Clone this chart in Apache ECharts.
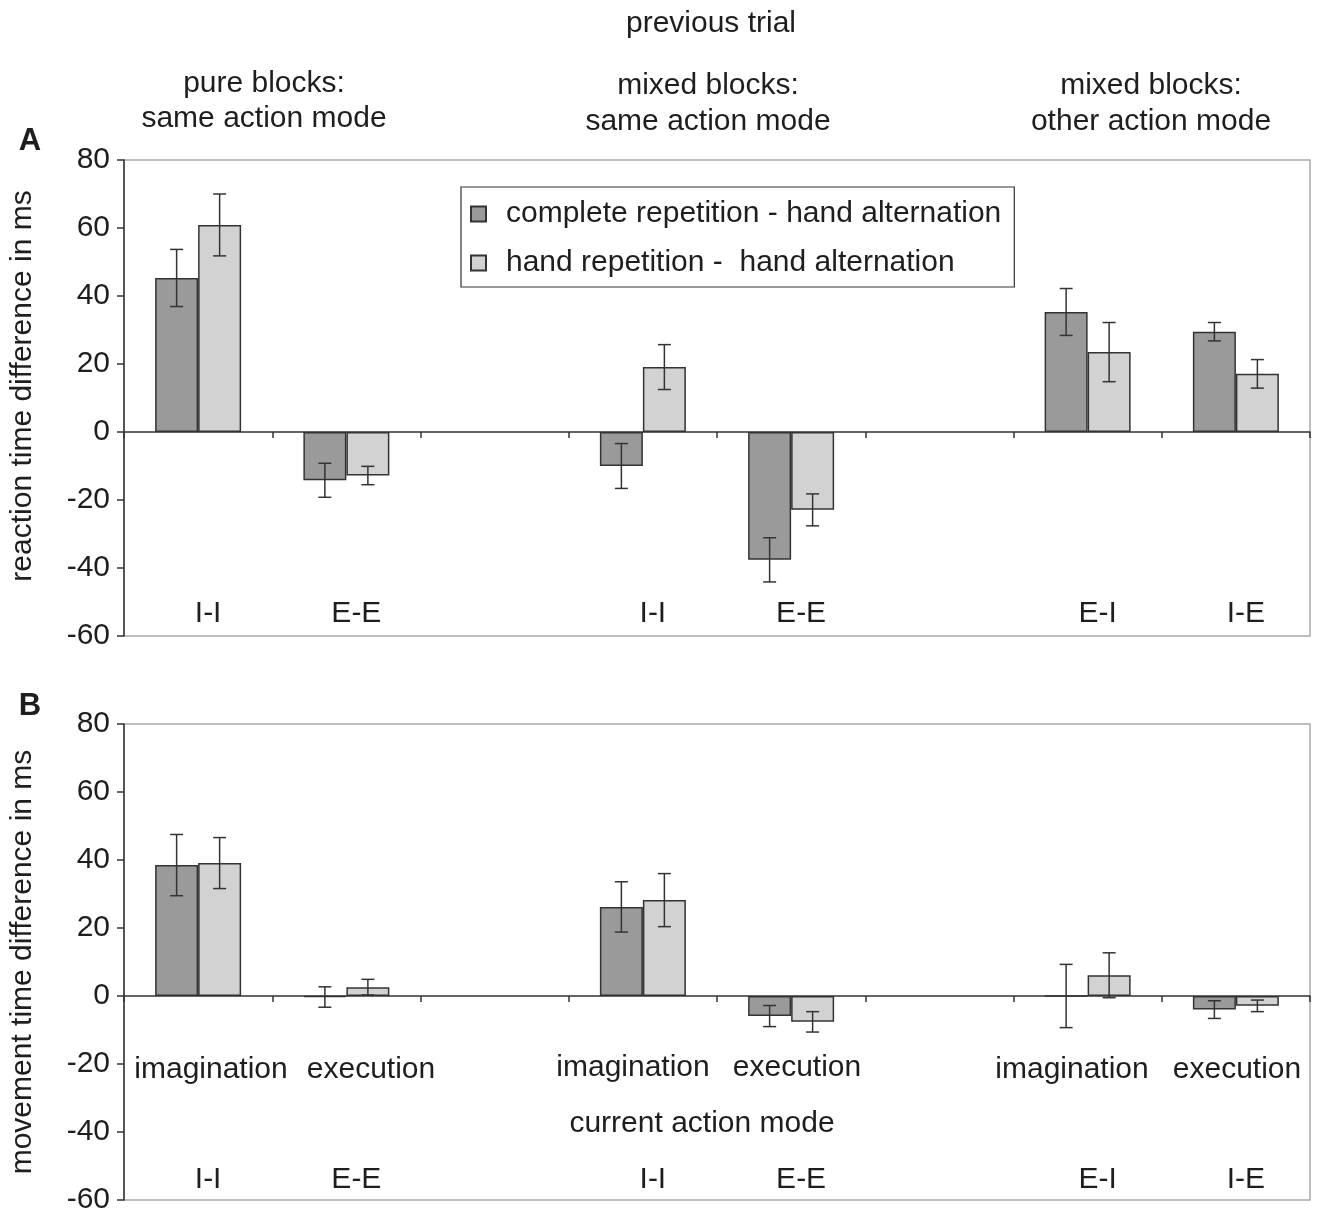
<!DOCTYPE html>
<html>
<head>
<meta charset="utf-8">
<script src="https://cdn.jsdelivr.net/npm/echarts@6/dist/echarts.min.js"></script>
<style>html,body{margin:0;padding:0;background:#fff}#c{width:1318px;height:1217px}</style>
</head>
<body>
<div id="c"></div>
<script>
// ---------- data ----------
const categories = ['pure I-I', 'pure E-E', 'gap1', 'mixed I-I', 'mixed E-E', 'gap2', 'other E-I', 'other I-E'];
const transitionLabels = ['I-I', 'E-E', '', 'I-I', 'E-E', '', 'E-I', 'I-E'];
const modeLabels = ['imagination', 'execution', '', 'imagination', 'execution', '', 'imagination', 'execution'];
const seriesNames = ['complete repetition - hand alternation', 'hand repetition -  hand alternation'];
const yTicks = [-60, -40, -20, 0, 20, 40, 60, 80];

// Panel A: reaction time difference (ms)
const rtComplete    = [45.3, -14.2, null, -10.0, -37.6, null, 35.3, 29.5];
const rtCompleteErr = [8.4, 5.0, null, 6.6, 6.5, null, 6.9, 2.7];
const rtHand        = [60.9, -12.8, null, 19.1, -22.9, null, 23.5, 17.1];
const rtHandErr     = [9.1, 2.7, null, 6.6, 4.7, null, 8.7, 4.2];

// Panel B: movement time difference (ms)
const mtComplete    = [38.5, -0.3, null, 26.2, -5.9, null, 0.0, -4.0];
const mtCompleteErr = [9.0, 3.0, null, 7.4, 3.1, null, 9.3, 2.6];
const mtHand        = [39.1, 2.6, null, 28.2, -7.6, null, 6.1, -2.9];
const mtHandErr     = [7.5, 2.3, null, 7.8, 3.0, null, 6.6, 1.7];

// ---------- styles ----------
const FONT = 'Liberation Sans, Arial, Helvetica, sans-serif';
const FS = 30;
const TXT = '#1e1e1e';
const DARK = '#9a9a9a';
const LIGHT = '#d2d2d2';
const EDGE = '#333333';
const BAR_W = 43;

const chart = echarts.init(document.getElementById('c'), null, {renderer: 'canvas'});

function errItems(vals, errs) {
  return vals.map((v, i) => (v === null ? null : [i, v, errs[i]])).filter(d => d);
}

function errSeries(name, xi, yi, vals, errs, shift) {
  return {
    type: 'custom', name: name, xAxisIndex: xi, yAxisIndex: yi, z: 5,
    silent: true,
    data: errItems(vals, errs),
    encode: {x: 0, y: 1},
    renderItem: function (params, api) {
      const x = api.value(0), y = api.value(1), e = api.value(2);
      const top = api.coord([x, y + e]);
      const bot = api.coord([x, y - e]);
      const cx = top[0] + shift;
      const cap = 6.5;
      const st = {stroke: EDGE, lineWidth: 1.5};
      return {
        type: 'group',
        children: [
          {type: 'line', shape: {x1: cx, y1: top[1], x2: cx, y2: bot[1]}, style: st},
          {type: 'line', shape: {x1: cx - cap, y1: top[1], x2: cx + cap, y2: top[1]}, style: st},
          {type: 'line', shape: {x1: cx - cap, y1: bot[1], x2: cx + cap, y2: bot[1]}, style: st}
        ]
      };
    }
  };
}

function barSeries(name, color, xi, yi, vals) {
  return {
    type: 'bar', name: name, xAxisIndex: xi, yAxisIndex: yi,
    data: vals, barWidth: BAR_W, barGap: '0%',
    itemStyle: {color: color, borderColor: EDGE, borderWidth: 1.5},
    silent: true, z: 3
  };
}

function mainX(gridIndex) {
  return {
    type: 'category', gridIndex: gridIndex, data: categories,
    axisLine: {onZero: true, lineStyle: {color: EDGE, width: 1.5}},
    axisTick: {show: true, length: 6, interval: 0, lineStyle: {color: EDGE, width: 1.5}},
    axisLabel: {show: false},
    splitLine: {show: false}
  };
}

function labelX(gridIndex, margin) {
  return {
    type: 'category', gridIndex: gridIndex, data: categories, position: 'bottom',
    axisLine: {show: false, onZero: false}, axisTick: {show: false},
    axisLabel: {
      show: true, inside: true, interval: 0, margin: margin,
      formatter: (v, i) => transitionLabels[i],
      fontFamily: FONT, fontSize: FS, color: TXT, padding: [0, 0, 0, 20]
    }
  };
}

function valY(gridIndex, name, namePad) {
  return {
    type: 'value', gridIndex: gridIndex,
    min: yTicks[0], max: yTicks[yTicks.length - 1], interval: 20,
    name: name, nameLocation: 'middle', nameGap: 86,
    nameTextStyle: {fontFamily: FONT, fontSize: FS, color: TXT, padding: namePad},
    axisLine: {show: true, lineStyle: {color: EDGE, width: 1.5}},
    axisTick: {show: true, length: 7, lineStyle: {color: EDGE, width: 1.5}},
    axisLabel: {fontFamily: FONT, fontSize: FS, color: TXT, margin: 14},
    splitLine: {show: false}
  };
}

function txt(x, y, text, opts) {
  return {
    type: 'text', x: x, y: y,
    style: Object.assign({text: text, fontFamily: FONT, fontSize: FS, fill: TXT, align: 'center', verticalAlign: 'middle'}, opts || {})
  };
}

const modeLabelPos = [[211, 1070], [371, 1070], null, [633, 1068], [797, 1068], null, [1072, 1070], [1237, 1070]];
const graphics = [
  txt(711, 24, 'previous trial'),
  txt(264, 84, 'pure blocks:'),
  txt(264, 119, 'same action mode'),
  txt(708, 86, 'mixed blocks:'),
  txt(708, 122, 'same action mode'),
  txt(1151, 86, 'mixed blocks:'),
  txt(1151, 122, 'other action mode'),
  txt(30, 141, 'A', {fontWeight: 'bold', fontSize: 31}),
  txt(30, 706, 'B', {fontWeight: 'bold', fontSize: 31}),
  txt(702, 1124, 'current action mode')
];
modeLabels.forEach((m, i) => {
  if (m && modeLabelPos[i]) graphics.push(txt(modeLabelPos[i][0], modeLabelPos[i][1], m));
});

const option = {
  animation: false,
  backgroundColor: '#ffffff',
  textStyle: {fontFamily: FONT},
  grid: [
    {left: 123, right: 8, top: 160, height: 476, show: true, borderColor: '#aaaaaa', borderWidth: 1.5, backgroundColor: 'transparent'},
    {left: 123, right: 8, top: 724, height: 476, show: true, borderColor: '#aaaaaa', borderWidth: 1.5, backgroundColor: 'transparent'}
  ],
  legend: {
    data: seriesNames,
    orient: 'vertical', left: 461, top: 187,
    itemWidth: 15, itemHeight: 15, itemGap: 19,
    padding: [12, 13, 9, 9],
    borderColor: EDGE, borderWidth: 1.2, backgroundColor: '#fff',
    textStyle: {fontFamily: FONT, fontSize: FS, color: TXT, padding: [0, 0, 0, 15]},
    icon: 'rect', selectedMode: false
  },
  xAxis: [mainX(0), labelX(0, 7), mainX(1), labelX(1, 5)],
  yAxis: [valY(0, 'reaction time difference in ms', [0, 0, 0, 24]), valY(1, 'movement time difference in ms', [0, 0, 0, 0])],
  series: [
    barSeries(seriesNames[0], DARK, 0, 0, rtComplete),
    barSeries(seriesNames[1], LIGHT, 0, 0, rtHand),
    errSeries('errA1', 0, 0, rtComplete, rtCompleteErr, -BAR_W / 2),
    errSeries('errA2', 0, 0, rtHand, rtHandErr, BAR_W / 2),
    barSeries(seriesNames[0], DARK, 2, 1, mtComplete),
    barSeries(seriesNames[1], LIGHT, 2, 1, mtHand),
    errSeries('errB1', 2, 1, mtComplete, mtCompleteErr, -BAR_W / 2),
    errSeries('errB2', 2, 1, mtHand, mtHandErr, BAR_W / 2)
  ],
  graphic: graphics
};
chart.setOption(option);
</script>
</body>
</html>
